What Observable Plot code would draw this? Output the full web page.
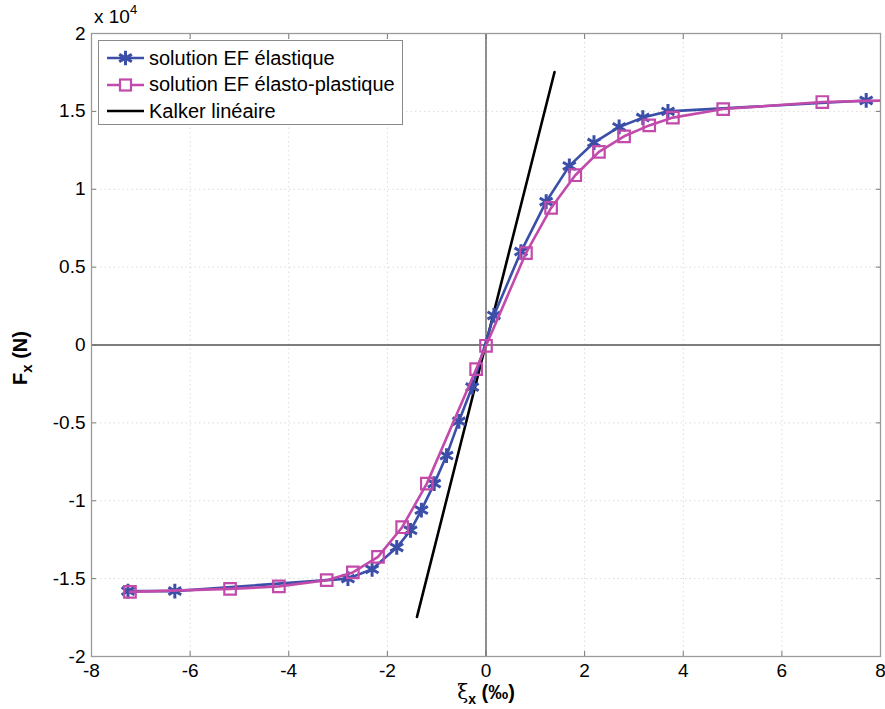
<!DOCTYPE html>
<html>
<head>
<meta charset="utf-8">
<script src="https://cdn.jsdelivr.net/npm/d3@7"></script>
<script src="https://cdn.jsdelivr.net/npm/@observablehq/plot@0.6"></script>
<style>
  html, body { margin: 0; padding: 0; background: #fff; }
  #wrap { position: relative; width: 885px; height: 709px; font-family: "Liberation Sans", Arial, sans-serif; }
  #wrap svg { overflow: visible; }
  .ov { position: absolute; white-space: nowrap; color: #000; }
</style>
</head>
<body>
<div id="wrap"></div>
<script>
// ξx in ‰ ; Fx in units of 10^4 N
const elasticX = [-7.26, -6.31, -2.80, -2.31, -1.81, -1.53, -1.31, -1.05, -0.80, -0.55, -0.28, 0.16, 0.71, 1.22, 1.69, 2.19, 2.70, 3.18, 3.69, 7.71];
const elasticY = [-1.58, -1.58, -1.50, -1.44, -1.30, -1.19, -1.06, -0.89, -0.71, -0.49, -0.27, 0.19, 0.60, 0.92, 1.15, 1.30, 1.40, 1.46, 1.50, 1.57];
const plasticX = [-7.22, -5.19, -4.20, -3.23, -2.70, -2.19, -1.70, -1.20, -0.20, 0.00, 0.81, 1.32, 1.81, 2.29, 2.80, 3.31, 3.79, 4.81, 6.82, 8.80];
const plasticY = [-1.585, -1.566, -1.55, -1.51, -1.46, -1.36, -1.17, -0.89, -0.155, -0.005, 0.59, 0.88, 1.09, 1.24, 1.34, 1.41, 1.46, 1.515, 1.56, 1.575];
const kalkerX = [-1.40, 1.39];
const kalkerY = [-1.746, 1.753];
const xTicks = [-8, -6, -4, -2, 0, 2, 4, 6, 8];
const yTicks = [-2, -1.5, -1, -0.5, 0, 0.5, 1, 1.5, 2];
const seriesNames = ["solution EF élastique", "solution EF élasto-plastique", "Kalker linéaire"];
const colors = ["#3b4fa9", "#c24aab", "#000000"];

const elastic = elasticX.map((x, i) => ({x, y: elasticY[i]}));
const plastic = plasticX.map((x, i) => ({x, y: plasticY[i]}));
const kalker = kalkerX.map((x, i) => ({x, y: kalkerY[i]}));
const fmt = d => String(d);

const chart = Plot.plot({
  width: 885, height: 709,
  marginLeft: 91, marginRight: 5, marginTop: 33, marginBottom: 53,
  style: {fontFamily: "'Liberation Sans', Arial, sans-serif", fontSize: "19px", color: "#000", background: "#fff"},
  x: {domain: [-8, 8]},
  y: {domain: [-2, 2]},
  marks: [
    Plot.gridX(xTicks, {stroke: "#dcdcdc", strokeOpacity: 1, strokeDasharray: "1.5,3"}),
    Plot.gridY(yTicks, {stroke: "#dcdcdc", strokeOpacity: 1, strokeDasharray: "1.5,3"}),
    Plot.ruleX([0], {stroke: "#555", strokeWidth: 1.3}),
    Plot.ruleY([0], {stroke: "#555", strokeWidth: 1.3}),
    Plot.axisX(xTicks, {anchor: "bottom", tickSize: 0, tickPadding: 7, tickFormat: fmt, label: null, fontSize: 19}),
    Plot.axisY(yTicks, {anchor: "left", tickSize: 0, tickPadding: 6, tickFormat: fmt, label: null, fontSize: 19}),
    Plot.axisX(xTicks, {anchor: "bottom", tickSize: -5, text: null, label: null, stroke: "#777"}),
    Plot.axisX(xTicks, {anchor: "top", tickSize: -5, text: null, label: null, stroke: "#777"}),
    Plot.axisY(yTicks, {anchor: "left", tickSize: -5, text: null, label: null, stroke: "#777"}),
    Plot.axisY(yTicks, {anchor: "right", tickSize: -5, text: null, label: null, stroke: "#777"}),
    Plot.frame({stroke: "#9a9a9a", strokeWidth: 1.3}),
    Plot.line(kalker, {x: "x", y: "y", stroke: colors[2], strokeWidth: 2.6, clip: true}),
    Plot.line(elastic, {x: "x", y: "y", stroke: colors[0], strokeWidth: 2.6, clip: true}),
    Plot.dot(elastic, {x: "x", y: "y", symbol: "asterisk", r: 7, stroke: colors[0], strokeWidth: 3, clip: true}),
    Plot.line(plastic, {x: "x", y: "y", stroke: colors[1], strokeWidth: 2.6, clip: true}),
    Plot.dot(plastic, {x: "x", y: "y", symbol: "square", r: 6.5, stroke: colors[1], strokeWidth: 2.2, fill: "none", clip: true})
  ]
});

const wrap = document.getElementById("wrap");
wrap.appendChild(chart);

// multiplier label
const mult = document.createElement("div");
mult.className = "ov";
mult.style.cssText = "left:94px;top:4px;font-size:19px;";
mult.innerHTML = "x 10<sup style='font-size:13px;position:relative;top:-2px'>4</sup>";
wrap.appendChild(mult);

// legend
const leg = document.createElement("div");
leg.className = "ov";
leg.style.cssText = "left:98px;top:40px;width:305px;height:85px;border:1.3px solid #8a8a8a;background:#fff;box-sizing:border-box;";
const symbols = ["asterisk", "square", null];
seriesNames.forEach((name, i) => {
  const row = document.createElement("div");
  row.style.cssText = `position:absolute;left:0;top:${4 + i * 26.5}px;height:26px;display:flex;align-items:center;`;
  const sw = d3.create("svg").attr("width", 50).attr("height", 26).style("display", "block");
  sw.append("line").attr("x1", 8).attr("x2", 45).attr("y1", 13).attr("y2", 13).attr("stroke", colors[i]).attr("stroke-width", 2.6);
  if (symbols[i] === "asterisk") {
    sw.append("path").attr("d", d3.symbol(d3.symbolAsterisk, 150)()).attr("transform", "translate(26.5,13)").attr("stroke", colors[i]).attr("stroke-width", 3).attr("fill", "none");
  } else if (symbols[i] === "square") {
    sw.append("rect").attr("x", 21).attr("y", 7.5).attr("width", 11).attr("height", 11).attr("stroke", colors[i]).attr("stroke-width", 2.2).attr("fill", "#fff");
  }
  row.appendChild(sw.node());
  const t = document.createElement("span");
  t.textContent = name;
  t.style.cssText = "font-size:20px;margin-left:0px;";
  row.appendChild(t);
  leg.appendChild(row);
});
wrap.appendChild(leg);

// y label
const yl = document.createElement("div");
yl.className = "ov";
yl.style.cssText = "left:22px;top:358px;font-size:20px;font-weight:bold;transform:translate(-50%,-50%) rotate(-90deg);";
yl.innerHTML = "F<sub style='font-size:15px;'>x</sub> (N)";
wrap.appendChild(yl);

// x label
const xl = document.createElement("div");
xl.className = "ov";
xl.style.cssText = "left:486px;top:692px;font-size:20px;line-height:20px;transform:translate(-50%,-50%);";
xl.innerHTML = "<span style='font-family:\"DejaVu Serif\",serif;'>ξ</span><sub style='font-size:14px;font-weight:bold;line-height:0;'>x</sub> <b>(‰)</b>";
wrap.appendChild(xl);
</script>
</body>
</html>
